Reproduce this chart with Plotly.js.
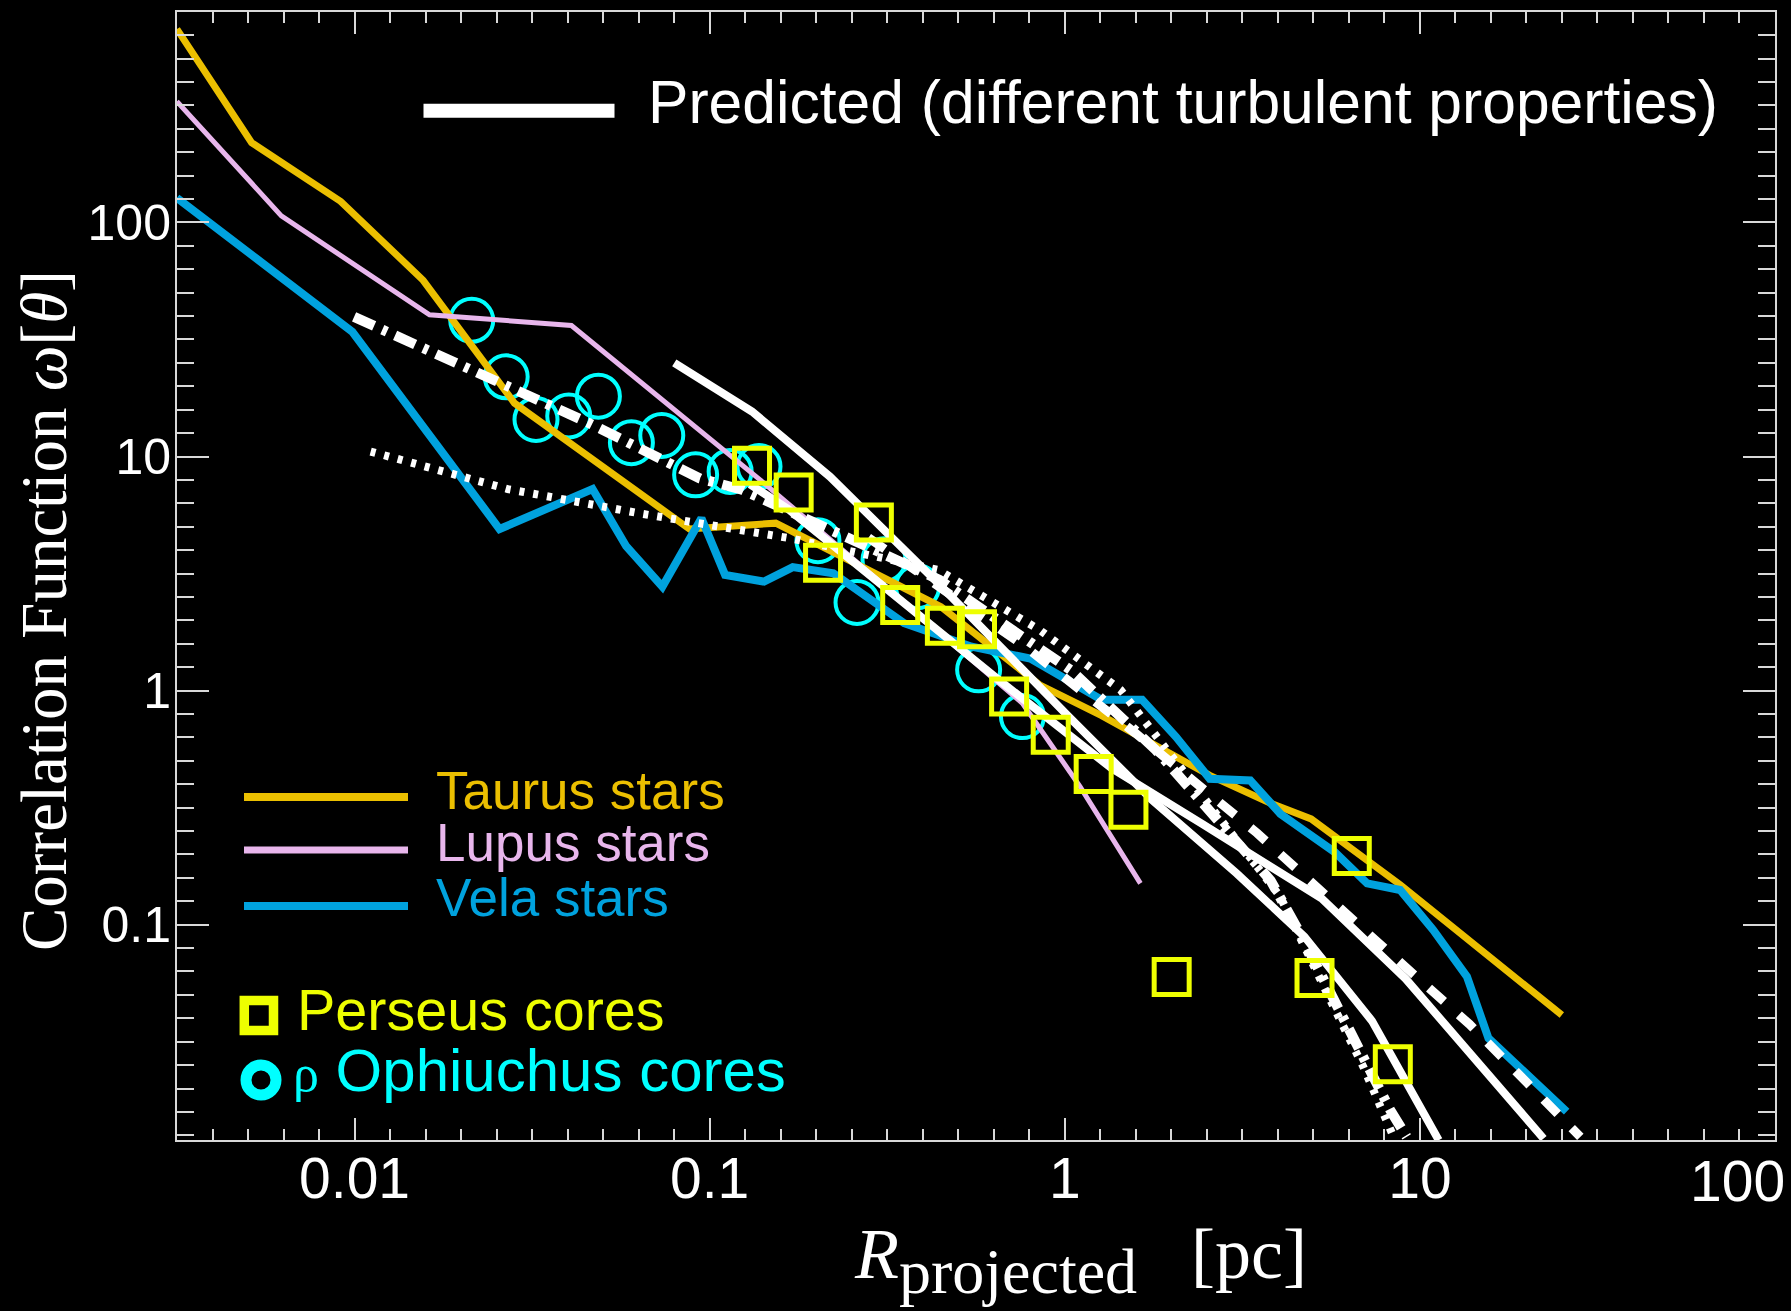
<!DOCTYPE html>
<html>
<head>
<meta charset="utf-8">
<script src="https://cdn.plot.ly/plotly-3.0.1.min.js"></script>
<style>
  html, body { margin: 0; padding: 0; background: #000; }
  #chart { width: 1791px; height: 1311px; }
</style>
</head>
<body>
<div id="chart"></div>
<script>
// ---------------- data: projected separation R [pc] vs correlation function ----------------
const taurusR = [0.00316, 0.00513, 0.00914, 0.0156, 0.0282, 0.0877, 0.1535, 0.448, 0.849, 1.27, 2.56, 3.80, 4.94, 8.80, 25.1];
const taurusW = [670, 219, 123, 56.6, 16.9, 4.90, 5.19, 2.28, 1.058, 0.782, 0.434, 0.330, 0.283, 0.148, 0.0411];

const lupusR = [0.00316, 0.00622, 0.01626, 0.0408, 0.1387, 0.760, 1.104, 1.633];
const lupusW = [329, 106.7, 40.3, 36.3, 7.95, 0.883, 0.389, 0.150];

const velaR = [0.00316, 0.00986, 0.0256, 0.0468, 0.0582, 0.0736, 0.0948, 0.1105, 0.1422, 0.1714, 0.2230,
               0.353, 0.547, 0.80, 1.269, 1.651, 2.056, 2.56, 3.33, 4.05, 5.76, 7.10, 8.80, 10.9, 13.57, 15.6, 25.9];
const velaW = [127.4, 34.1, 4.90, 7.26, 4.14, 2.78, 5.45, 3.12, 2.92, 3.37, 3.17,
               1.94, 1.54, 1.37, 0.913, 0.913, 0.635, 0.420, 0.413, 0.297, 0.204, 0.150, 0.1406, 0.0949, 0.060, 0.0327, 0.0159];

const perseusR = [0.1316, 0.1724, 0.290, 0.2086, 0.344, 0.4596, 0.566, 0.697, 0.913, 1.206, 1.511, 2.00, 5.05, 6.43, 8.39];
const perseusW = [9.12, 7.02, 5.23, 3.52, 2.32, 1.89, 1.83, 0.943, 0.647, 0.440, 0.310, 0.0598, 0.0592, 0.1966, 0.0253];

const ophR = [0.02138, 0.02673, 0.03243, 0.0401, 0.0486, 0.0602, 0.0733, 0.0913, 0.1142, 0.1377, 0.2018, 0.260, 0.3097, 0.385, 0.572, 0.760];
const ophW = [38.2, 21.9, 14.4, 14.9, 18.1, 11.45, 12.3, 8.35, 8.63, 9.06, 4.37, 2.38, 3.62, 2.78, 1.226, 0.774];

// predicted curves for different turbulent properties
const predSolidAR = [0.0795, 0.1316, 0.218, 0.3236, 0.4395, 1.019, 1.762, 3.05, 4.73, 7.33, 11.3];
const predSolidAW = [25.1, 15.57, 8.21, 4.55, 2.88, 0.782, 0.341, 0.1654, 0.0889, 0.0388, 0.0120];

const predSolidBR = [0.13, 0.1675, 0.657, 1.354, 2.45, 5.27, 9.12, 20.5, 22.3];
const predSolidBW = [7.6, 5.92, 1.10, 0.466, 0.268, 0.130, 0.0587, 0.01426, 0.0122];

const predDashR = [0.28, 0.766, 1.58, 3.48, 7.49, 13.8, 28.3];
const predDashW = [4.5, 1.558, 0.658, 0.246, 0.0859, 0.0375, 0.0124];

const predDashDotR = [0.00997, 0.02171, 0.0457, 0.0939, 0.1233, 0.283, 0.4437, 1.038, 1.804, 2.45, 3.80, 4.60, 8.25, 9.18];
const predDashDotW = [39.5, 23.1, 13.9, 8.06, 7.21, 4.07, 2.97, 1.226, 0.558, 0.330, 0.1543, 0.0918, 0.01614, 0.0124];

const predDotR = [0.0111, 0.0270, 0.065, 0.1675, 0.4395, 0.849, 1.436, 4.04, 5.71, 6.93, 8.43];
const predDotW = [10.5, 7.26, 5.68, 4.48, 3.28, 1.817, 1.007, 0.132, 0.0447, 0.0247, 0.0124];

// axis ticks
const xTickVals = [0.01, 0.1, 1, 10];
const xTickText = ['0.01', '0.1', '1', '10'];
const xEdgeLabel = '100';
const yTickVals = [0.1, 1, 10, 100];
const yTickText = ['0.1', '1', '10', '100'];

// titles and key labels
const xTitle = '<i>R</i><sub><span style="font-size:64px">projected</span></sub>\u00A0\u00A0\u00A0[pc]';
const yTitle = 'Correlation Function <i>\u03C9</i>[<i>\u03B8</i>]';
const predLabel = 'Predicted (different turbulent properties)';
const taurusLabel = 'Taurus stars';
const lupusLabel = 'Lupus stars';
const velaLabel = 'Vela stars';
const perseusLabel = 'Perseus cores';
const ophLabel = '<span style="font-family:Liberation Serif, serif;font-size:52px">\u03C1</span> Ophiuchus cores';

// ---------------- styling ----------------
const C_TAURUS = '#EBBF00';
const C_LUPUS = '#E8B6EC';
const C_VELA = '#00A2DE';
const C_PERSEUS = '#EEFF00';
const C_OPH = '#00FFFF';
const AXIS = '#D9D9D9';
const SANS = 'Liberation Sans, Arial, sans-serif';
const SERIF = 'Liberation Serif, Times New Roman, serif';

const W = 1791, H = 1311;
const M = { l: 177, r: 16, t: 12, b: 171 };
const PW = W - M.l - M.r, PH = H - M.t - M.b;
// pixel position on the page -> paper fraction (for the hand-placed key and titles)
const px = v => (v - M.l) / PW;
const py = v => (M.t + PH - v) / PH;

// minor ticks every tenth of a decade
function tenthDecades(lo, hi) {
  const out = [];
  for (let k = Math.round(lo * 10); k <= Math.round(hi * 10); k++) {
    if (k % 10 !== 0) out.push(Math.pow(10, k / 10));
  }
  return out;
}

function line(x, y, color, width, dash) {
  return { type: 'scatter', mode: 'lines', x: x, y: y, showlegend: false, hoverinfo: 'skip',
           line: { color: color, width: width, dash: dash || 'solid' } };
}

const traces = [
  { type: 'scatter', mode: 'markers', x: ophR, y: ophW, showlegend: false, hoverinfo: 'skip',
    marker: { symbol: 'circle-open', size: 43, color: C_OPH, line: { color: C_OPH, width: 4 } } },
  line(taurusR, taurusW, C_TAURUS, 7),
  line(lupusR, lupusW, C_LUPUS, 5),
  line(velaR, velaW, C_VELA, 8),
  line(predDotR, predDotW, '#FFFFFF', 8, '5px,9px'),
  line(predDashDotR, predDashDotW, '#FFFFFF', 10, '22px,9px,5px,9px'),
  line(predDashR, predDashW, '#FFFFFF', 9, '20px,20px'),
  line(predSolidBR, predSolidBW, '#FFFFFF', 8),
  line(predSolidAR, predSolidAW, '#FFFFFF', 8),
  { type: 'scatter', mode: 'markers', x: perseusR, y: perseusW, showlegend: false, hoverinfo: 'skip',
    marker: { symbol: 'square-open', size: 35, color: C_PERSEUS, line: { color: C_PERSEUS, width: 5 } } }
];

const keyText = (x, y, text, color, size) => ({
  xref: 'paper', yref: 'paper', x: px(x), y: py(y), xanchor: 'left', yanchor: 'middle',
  text: text, showarrow: false, font: { family: SANS, size: size, color: color }
});
const keyLine = (x0, x1, y, color, width) => ({
  type: 'line', xref: 'paper', yref: 'paper', x0: px(x0), x1: px(x1), y0: py(y), y1: py(y),
  line: { color: color, width: width }
});

const layout = {
  width: W, height: H,
  margin: M,
  paper_bgcolor: '#000000',
  plot_bgcolor: '#000000',
  showlegend: false,
  xaxis: {
    type: 'log', range: [-2.5, 2.0], autorange: false,
    showgrid: false, zeroline: false,
    showline: true, linecolor: AXIS, linewidth: 2, mirror: 'ticks',
    ticks: 'inside', ticklen: 22, tickwidth: 2, tickcolor: AXIS,
    tickmode: 'array', tickvals: xTickVals, ticktext: xTickText,
    tickfont: { family: SANS, size: 57, color: '#FFFFFF' },
    ticklabelstandoff: -12,
    minor: { tickmode: 'array', tickvals: tenthDecades(-2.4, 1.9), ticks: 'inside', ticklen: 11, tickwidth: 2, tickcolor: AXIS, showgrid: false },
    automargin: false
  },
  yaxis: {
    type: 'log', range: [-1.92, 2.899], autorange: false,
    showgrid: false, zeroline: false,
    showline: true, linecolor: AXIS, linewidth: 2, mirror: 'ticks',
    ticks: 'inside', ticklen: 32, tickwidth: 2, tickcolor: AXIS,
    tickmode: 'array', tickvals: yTickVals, ticktext: yTickText,
    tickfont: { family: SANS, size: 50, color: '#FFFFFF' },
    ticklabelstandoff: -6,
    minor: { tickmode: 'array', tickvals: tenthDecades(-1.9, 2.8), ticks: 'inside', ticklen: 17, tickwidth: 2, tickcolor: AXIS, showgrid: false },
    automargin: false
  },
  shapes: [
    keyLine(423.5, 614.5, 110.7, '#FFFFFF', 14),
    keyLine(244, 408, 797, C_TAURUS, 8),
    keyLine(244, 408, 850, C_LUPUS, 7),
    keyLine(244, 408, 906, C_VELA, 8),
    { type: 'rect', xref: 'paper', yref: 'paper', x0: px(244.3), x1: px(273.5), y0: py(1030.5), y1: py(1000.5),
      line: { color: C_PERSEUS, width: 9.5 }, fillcolor: 'rgba(0,0,0,0)' },
    { type: 'circle', xref: 'paper', yref: 'paper', x0: px(246), x1: px(276), y0: py(1095), y1: py(1065),
      line: { color: C_OPH, width: 11 }, fillcolor: 'rgba(0,0,0,0)' }
  ],
  annotations: [
    // axis titles
    { xref: 'paper', yref: 'paper', x: px(852), y: py(1212), xanchor: 'left', yanchor: 'top',
      text: xTitle, showarrow: false, font: { family: SERIF, size: 72, color: '#FFFFFF' } },
    { xref: 'paper', yref: 'paper', x: px(44), y: py(611), xanchor: 'center', yanchor: 'middle', textangle: -90,
      text: yTitle, showarrow: false, font: { family: SERIF, size: 65, color: '#FFFFFF' } },
    // key
    keyText(646, 102, predLabel, '#FFFFFF', 60.6),
    keyText(434, 790, taurusLabel, C_TAURUS, 53),
    keyText(434, 842, lupusLabel, C_LUPUS, 53),
    keyText(434, 898, velaLabel, C_VELA, 53),
    keyText(295, 1010, perseusLabel, C_PERSEUS, 57.5),
    keyText(291, 1070, ophLabel, C_OPH, 60),
    // last decade label, kept inside the page edge
    { xref: 'x', yref: 'paper', x: 2, y: py(1181), xanchor: 'right', yanchor: 'middle', xshift: 12,
      text: xEdgeLabel, showarrow: false, font: { family: SANS, size: 57, color: '#FFFFFF' } }
  ]
};

Plotly.newPlot('chart', traces, layout, { displayModeBar: false, staticPlot: true });
</script>
</body>
</html>
